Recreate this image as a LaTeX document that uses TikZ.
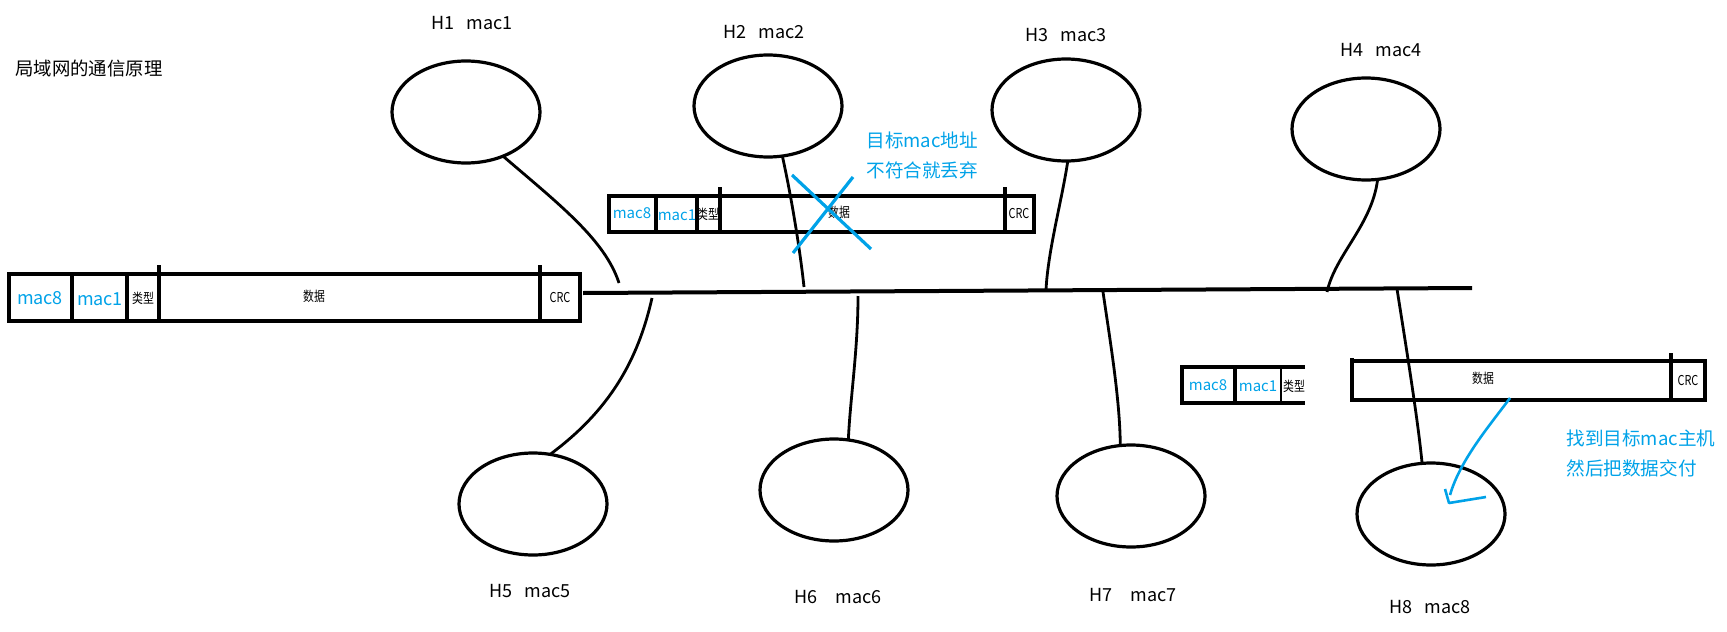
\documentclass[tikz,border=0pt]{standalone}
\usepackage{fontspec}
\setmainfont{Noto Sans CJK SC}
\usetikzlibrary{shapes.geometric}
\definecolor{paintblue}{RGB}{0,162,232}
\tikzset{
  host/.style={draw, ellipse, minimum width=74pt, minimum height=51pt, inner sep=0pt, outer sep=0pt, line width=1.6pt},
  hostlabel/.style={inner sep=0pt, font=\fontsize{9}{10}\selectfont},
  wire/.style={line width=1.4pt},
  bus/.style={line width=2pt},
  frameline/.style={line width=1.6pt},
  bluetext/.style={inner sep=0pt, anchor=west, align=left, text=paintblue, font=\fontsize{9.3}{15}\selectfont},
  macbig/.style={inner sep=0pt, text=paintblue, font=\fontsize{9}{10}\selectfont},
  macsmall/.style={inner sep=0pt, text=paintblue, font=\fontsize{7.5}{9}\selectfont},
  tiny/.style={inner sep=0pt, font=\fontsize{6.8}{8}\selectfont},
  bluepen/.style={draw=paintblue, line width=1.6pt},
}
\newcommand{\sq}[1]{\scalebox{0.8}[1]{#1}}
\begin{document}
\begin{tikzpicture}[x=0.5pt,y=-0.5pt]
\useasboundingbox (0,0) rectangle (1727,631);

% title
\node[inner sep=0pt, anchor=west, font=\fontsize{9.2}{10}\selectfont] (title) at (15,68) {局域网的通信原理};

% hosts
\node[host] (H1) at (466,112) {};
\node[host] (H2) at (768,106) {};
\node[host] (H3) at (1066,110) {};
\node[host] (H4) at (1366,129) {};
\node[host] (H5) at (533,504) {};
\node[host] (H6) at (834,490) {};
\node[host] (H7) at (1131,496) {};
\node[host] (H8) at (1431,514) {};

% host labels
\node[hostlabel] (L1) at (472,23) {H1\hspace{6pt}mac1};
\node[hostlabel] (L2) at (764,32) {H2\hspace{6pt}mac2};
\node[hostlabel] (L3) at (1066,35) {H3\hspace{6pt}mac3};
\node[hostlabel] (L4) at (1381,50) {H4\hspace{6pt}mac4};
\node[hostlabel] (L5) at (530,591) {H5\hspace{6pt}mac5};
\node[hostlabel] (L6) at (838,597) {H6\hspace{9pt}mac6};
\node[hostlabel] (L7) at (1133,595) {H7\hspace{9pt}mac7};
\node[hostlabel] (L8) at (1430,607) {H8\hspace{6pt}mac8};

% bus
\coordinate (busL) at (583,293);
\coordinate (busR) at (1472,288);
\draw[bus] (busL) -- (busR);

% junction points
\coordinate (e1) at (619,283);
\coordinate (e2) at (804,287);
\coordinate (e3) at (1046,290);
\coordinate (e4) at (1327,292);
\coordinate (e5) at (652,298);
\coordinate (e6) at (858,296);
\coordinate (e7) at (1103,292);
\coordinate (e8) at (1397,289);

% connectors
\draw[wire] (H1.-50) .. controls (560,205) and (605,240) .. (e1);
\draw[wire] (H2.-74) .. controls (792,200) and (800,250) .. (e2);
\draw[wire] (H3.-88) .. controls (1062,200) and (1048,250) .. (e3);
\draw[wire] (H4.-77) .. controls (1372,225) and (1335,255) .. (e4);
\draw[wire] (e5) .. controls (638,360) and (610,410) .. (H5.71);
\draw[wire] (e6) .. controls (858,350) and (850,400) .. (H6.74);
\draw[wire] (e7) .. controls (1110,340) and (1120,400) .. (H7.102);
\draw[wire] (e8) .. controls (1405,340) and (1418,420) .. (H8.100);

% ---- frame A (large, left)
\draw[frameline] (9,274) rectangle (580,321);
\draw[frameline] (72,274) -- (72,321);
\draw[frameline] (127,274) -- (127,321);
\draw[frameline] (159,265) -- (159,321);
\draw[frameline] (540,265) -- (540,321);
\node[macbig] (a1) at (40,298) {mac8};
\node[macbig] (a2) at (100,299) {mac1};
\node[tiny] (a3) at (143,298) {\sq{类型}};
\node[tiny] (a4) at (314,296) {\sq{数据}};
\node[tiny] (a5) at (560,298) {\sq{CRC}};

% ---- frame B (middle)
\draw[frameline] (609,196) rectangle (1034,232);
\draw[frameline] (656,196) -- (656,232);
\draw[frameline] (697,196) -- (697,232);
\draw[frameline] (720,187) -- (720,232);
\draw[frameline] (1005,187) -- (1005,232);
\node[macsmall] (b1) at (632,213) {mac8};
\node[macsmall] (b2) at (677,215) {mac1};
\node[tiny] (b3) at (708,214) {\sq{类型}};
\node[tiny] (b4) at (839,212) {\sq{数据}};
\node[tiny] (b5) at (1019,214) {\sq{CRC}};

% ---- frame C left part
\draw[frameline] (1305,367) -- (1182,367) -- (1182,403) -- (1305,403);
\draw[frameline] (1235,367) -- (1235,403);
\draw[line width=1pt] (1281,367) -- (1281,403);
\node[macsmall] (c1) at (1208,385) {mac8};
\node[macsmall] (c2) at (1258,386) {mac1};
\node[tiny] (c3) at (1294,386) {\sq{类型}};

% ---- frame C right part
\draw[frameline] (1352,358) -- (1352,400) -- (1705,400) -- (1705,361) -- (1352,361);
\draw[frameline] (1671,353) -- (1671,400);
\node[tiny] (d1) at (1483,378) {\sq{数据}};
\node[tiny] (d2) at (1688,381) {\sq{CRC}};

% blue cross over frame B
\draw[bluepen] (792,175) -- (871,249);
\draw[bluepen] (853,177) -- (793,253);

% blue notes
\node[bluetext] (n1) at (866,155) {目标mac地址\\不符合就丢弃};
\node[bluetext] (n2) at (1566,453) {找到目标mac主机\\然后把数据交付};

% blue hand-drawn arrow
\coordinate (ar0) at (1510,398);
\coordinate (ar1) at (1450,495);
\draw[draw=paintblue, line width=1.3pt] (ar0) .. controls (1490,425) and (1460,460) .. (ar1);
\draw[draw=paintblue, line width=1.3pt, line join=round] (1445,489) -- (1449,503) -- (1486,497);
\end{tikzpicture}
\end{document}
